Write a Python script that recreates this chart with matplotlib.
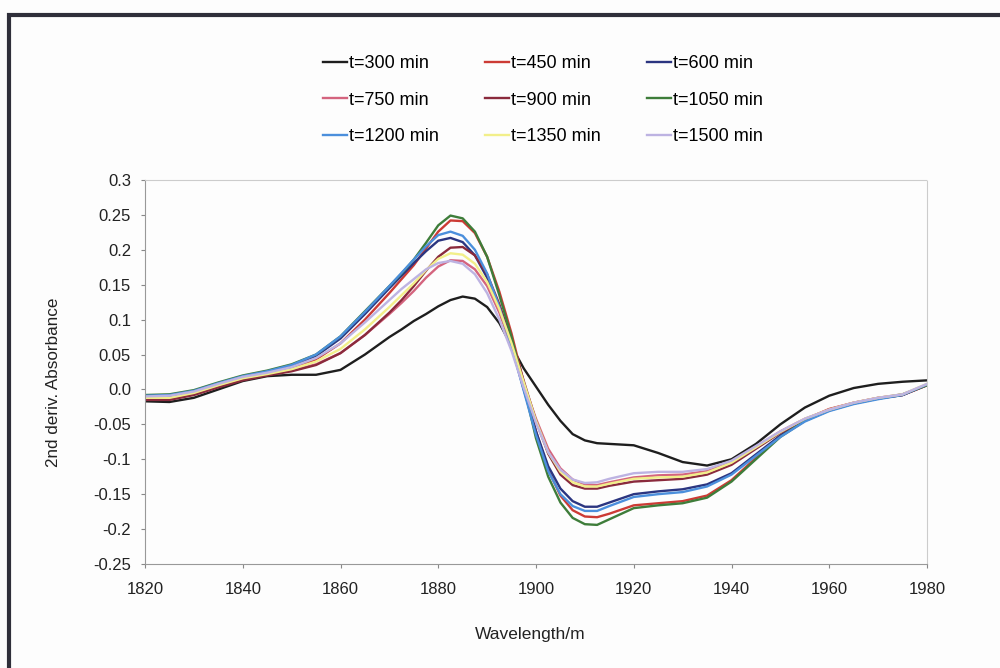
import matplotlib
matplotlib.use("Agg")
import matplotlib.pyplot as plt
from matplotlib.patches import Rectangle

plt.rcParams['font.family'] = ['Liberation Sans', 'DejaVu Sans']

# wavelength grid (finer around the peak / trough)
wavelength = [1820, 1825, 1830, 1835, 1840, 1845, 1850, 1855, 1860, 1865, 1870,
              1872.5, 1875, 1877.5, 1880, 1882.5, 1885, 1887.5, 1890, 1892.5, 1895,
              1897.5, 1900, 1902.5, 1905, 1907.5, 1910, 1912.5, 1915,
              1920, 1925, 1930, 1935, 1940, 1945, 1950, 1955, 1960, 1965, 1970, 1975, 1980]

t300 = [-0.017, -0.018, -0.012, 0.000, 0.012, 0.019, 0.021, 0.021, 0.028, 0.050, 0.075,
        0.086, 0.098, 0.108, 0.119, 0.128, 0.133, 0.130, 0.118, 0.095, 0.062,
        0.030, 0.004, -0.022, -0.045, -0.064, -0.073, -0.077, -0.078,
        -0.080, -0.091, -0.104, -0.109, -0.100, -0.078, -0.050, -0.026, -0.009, 0.002, 0.008, 0.011, 0.013]
t450 = [-0.013, -0.013, -0.006, 0.005, 0.015, 0.022, 0.030, 0.043, 0.066, 0.100, 0.138,
        0.158, 0.178, 0.202, 0.226, 0.242, 0.241, 0.224, 0.190, 0.140, 0.080,
        0.010, -0.060, -0.115, -0.152, -0.173, -0.182, -0.183, -0.178,
        -0.166, -0.163, -0.160, -0.152, -0.130, -0.098, -0.066, -0.043, -0.028, -0.019, -0.012, -0.008, 0.006]
t600 = [-0.012, -0.011, -0.004, 0.008, 0.018, 0.025, 0.034, 0.048, 0.073, 0.108, 0.145,
        0.163, 0.181, 0.198, 0.213, 0.217, 0.211, 0.192, 0.160, 0.115, 0.062,
        0.000, -0.060, -0.110, -0.142, -0.160, -0.168, -0.168, -0.162,
        -0.150, -0.146, -0.143, -0.136, -0.120, -0.093, -0.066, -0.045, -0.030, -0.020, -0.013, -0.008, 0.007]
t750 = [-0.014, -0.014, -0.007, 0.004, 0.014, 0.021, 0.027, 0.036, 0.052, 0.078, 0.108,
        0.124, 0.141, 0.160, 0.176, 0.185, 0.184, 0.172, 0.148, 0.110, 0.062,
        0.008, -0.042, -0.085, -0.113, -0.129, -0.136, -0.137, -0.133,
        -0.126, -0.123, -0.122, -0.117, -0.104, -0.082, -0.060, -0.042, -0.029, -0.019, -0.012, -0.007, 0.007]
t900 = [-0.015, -0.015, -0.008, 0.003, 0.013, 0.020, 0.026, 0.035, 0.052, 0.078, 0.110,
        0.128, 0.148, 0.170, 0.190, 0.203, 0.204, 0.192, 0.165, 0.122, 0.070,
        0.012, -0.045, -0.092, -0.122, -0.137, -0.142, -0.142, -0.138,
        -0.132, -0.130, -0.128, -0.122, -0.108, -0.085, -0.062, -0.043, -0.030, -0.020, -0.013, -0.008, 0.006]
t1050 = [-0.008, -0.007, -0.001, 0.010, 0.020, 0.027, 0.036, 0.050, 0.076, 0.112, 0.148,
         0.166, 0.186, 0.210, 0.235, 0.249, 0.245, 0.226, 0.190, 0.135, 0.075,
         0.005, -0.070, -0.125, -0.162, -0.184, -0.193, -0.194, -0.186,
         -0.170, -0.166, -0.163, -0.155, -0.132, -0.100, -0.068, -0.045, -0.030, -0.020, -0.013, -0.007, 0.006]
t1200 = [-0.009, -0.008, -0.002, 0.009, 0.019, 0.026, 0.035, 0.050, 0.076, 0.111, 0.148,
         0.167, 0.186, 0.205, 0.221, 0.226, 0.220, 0.200, 0.166, 0.118, 0.062,
         -0.002, -0.065, -0.117, -0.150, -0.167, -0.174, -0.174, -0.167,
         -0.154, -0.150, -0.147, -0.139, -0.122, -0.095, -0.068, -0.046, -0.031, -0.021, -0.014, -0.008, 0.007]
t1350 = [-0.012, -0.012, -0.005, 0.006, 0.016, 0.022, 0.029, 0.040, 0.058, 0.086, 0.118,
         0.135, 0.152, 0.171, 0.187, 0.195, 0.193, 0.180, 0.154, 0.115, 0.066,
         0.010, -0.045, -0.090, -0.118, -0.133, -0.139, -0.139, -0.135,
         -0.128, -0.126, -0.125, -0.119, -0.105, -0.083, -0.061, -0.042, -0.029, -0.019, -0.012, -0.007, 0.008]
t1500 = [-0.010, -0.009, -0.003, 0.008, 0.018, 0.024, 0.032, 0.045, 0.066, 0.096, 0.128,
         0.144, 0.158, 0.172, 0.181, 0.184, 0.180, 0.165, 0.138, 0.100, 0.055,
         0.002, -0.048, -0.090, -0.115, -0.129, -0.134, -0.133, -0.128,
         -0.120, -0.118, -0.118, -0.114, -0.102, -0.081, -0.060, -0.042, -0.029, -0.019, -0.012, -0.007, 0.008]

labels = ["t=300 min", "t=450 min", "t=600 min", "t=750 min", "t=900 min",
          "t=1050 min", "t=1200 min", "t=1350 min", "t=1500 min"]
series = [t300, t450, t600, t750, t900, t1050, t1200, t1350, t1500]
colors = ["#1e1e1e", "#cc3b35", "#2b3580", "#d4647e", "#8a2a3c",
          "#3e7d3a", "#4b8fdc", "#f2ef8a", "#bdb3e2"]

fig = plt.figure(figsize=(10, 6.68), dpi=100)
fig.patch.set_facecolor("#fdfdfd")

# outer chart frame
fig.patches.append(Rectangle((0.009, -0.05), 1.2, 1.0275, transform=fig.transFigure,
                             fill=False, edgecolor="#2f2f3a", linewidth=3))

ax = fig.add_axes([0.145, 0.1557, 0.782, 0.5749])
ax.set_facecolor("#fdfdfd")

handles = []
for ys, lab, col in zip(series, labels, colors):
    h, = ax.plot(wavelength, ys, color=col, linewidth=1.7, label=lab)
    handles.append(h)

ax.set_xlim(1820, 1980)
ax.set_ylim(-0.25, 0.3)
ax.set_xticks(range(1820, 1981, 20))
ax.set_yticks([0.3, 0.25, 0.2, 0.15, 0.1, 0.05, 0.0, -0.05, -0.1, -0.15, -0.2, -0.25])
ax.set_yticklabels(["0.3", "0.25", "0.2", "0.15", "0.1", "0.05", "0.0", "-0.05",
                    "-0.1", "-0.15", "-0.2", "-0.25"])
ax.tick_params(axis='both', labelsize=12, direction='out', length=3, color="#888888",
               labelcolor="#222222")
ax.tick_params(axis='x', pad=10)
ax.tick_params(axis='y', pad=7)

for side in ['top', 'right']:
    ax.spines[side].set_color("#cccccc")
    ax.spines[side].set_linestyle((0, (1, 1)))
    ax.spines[side].set_linewidth(0.8)
for side in ['left', 'bottom']:
    ax.spines[side].set_color("#999999")
    ax.spines[side].set_linewidth(0.8)

ax.set_xlabel("Wavelength/m", fontsize=12.5, color="#222222")
ax.xaxis.set_label_coords(0.493, -0.165)
ax.set_ylabel("2nd deriv. Absorbance", fontsize=12.3, color="#222222")
ax.yaxis.set_label_coords(-0.108, 0.474)

# legend laid out row by row (matplotlib fills columns first)
order = [0, 3, 6, 1, 4, 7, 2, 5, 8]
fig.legend([handles[i] for i in order], [labels[i] for i in order],
           loc='center', bbox_to_anchor=(0.543, 0.85), ncol=3, frameon=False,
           fontsize=13, handlelength=1.33, handletextpad=0.1,
           columnspacing=2.55, labelspacing=1.07)

fig.savefig("out.png", dpi=100, facecolor=fig.get_facecolor())
